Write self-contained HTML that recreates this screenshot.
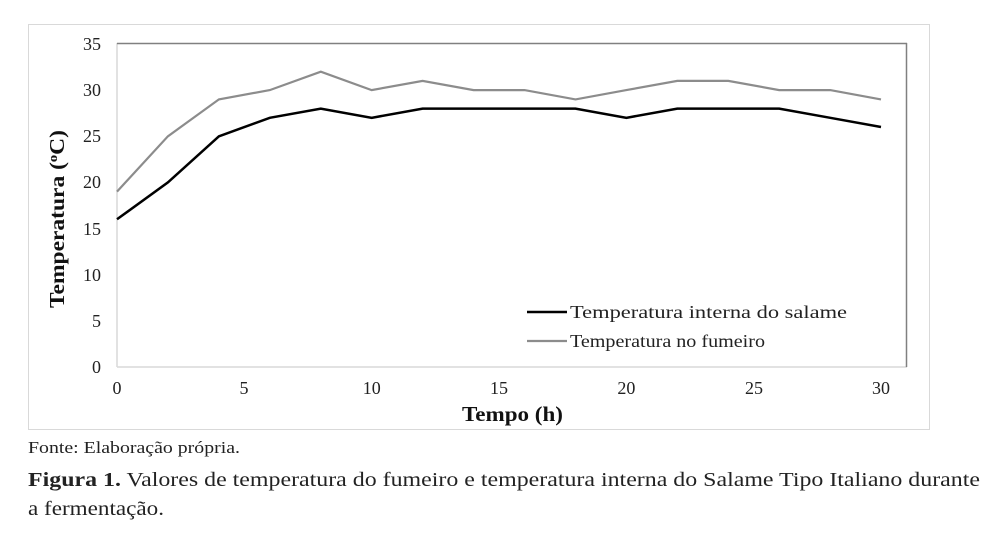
<!DOCTYPE html>
<html><head><meta charset="utf-8"><style>
body{margin:0;background:#fff;}
svg{display:block;font-family:"Liberation Serif",serif;}
</style></head><body>
<svg width="1004" height="534" viewBox="0 0 1004 534">
<rect x="28.5" y="24.5" width="901" height="405" fill="#fff" stroke="#d9d9d9" stroke-width="1"/>
<line x1="117" y1="367" x2="907" y2="367" stroke="#d9d9d9" stroke-width="1.5"/>
<line x1="117" y1="43" x2="117" y2="367" stroke="#d9d9d9" stroke-width="1.5"/>
<line x1="117" y1="43.5" x2="907" y2="43.5" stroke="#808080" stroke-width="1.5"/>
<line x1="906.5" y1="43" x2="906.5" y2="367" stroke="#808080" stroke-width="1.5"/>
<g font-size="18" fill="#222" text-anchor="end">
<text x="101" y="50">35</text><text x="101" y="96">30</text><text x="101" y="142">25</text>
<text x="101" y="188">20</text><text x="101" y="235">15</text><text x="101" y="281">10</text>
<text x="101" y="327">5</text><text x="101" y="373">0</text>
</g>
<g font-size="18" fill="#222" text-anchor="middle">
<text x="117" y="394">0</text><text x="244" y="394">5</text><text x="371.7" y="394">10</text>
<text x="499" y="394">15</text><text x="626.4" y="394">20</text><text x="754" y="394">25</text><text x="881" y="394">30</text>
</g>
<text x="462" y="421" font-size="21" font-weight="bold" fill="#111" textLength="101" lengthAdjust="spacingAndGlyphs">Tempo (h)</text>
<text transform="translate(64,308) rotate(-90)" font-size="21" font-weight="bold" fill="#111" textLength="178" lengthAdjust="spacingAndGlyphs">Temperatura (<tspan font-size="13" dy="-7">o</tspan><tspan dy="7">C)</tspan></text>
<polyline fill="none" stroke="#8c8c8c" stroke-width="2.2" points="117,191.6 167.9,136.3 218.9,99.4 269.8,90.1 320.8,71.7 371.7,90.1 422.6,80.9 473.6,90.1 524.5,90.1 575.5,99.4 626.4,90.1 677.3,80.9 728.3,80.9 779.2,90.1 830.2,90.1 881,99.4"/>
<polyline fill="none" stroke="#000" stroke-width="2.5" points="117,219.3 167.9,182.4 218.9,136.3 269.8,117.8 320.8,108.6 371.7,117.8 422.6,108.6 473.6,108.6 524.5,108.6 575.5,108.6 626.4,117.8 677.3,108.6 728.3,108.6 779.2,108.6 830.2,117.8 881,127"/>
<line x1="527" y1="312" x2="567" y2="312" stroke="#000" stroke-width="2.5"/>
<line x1="527" y1="341" x2="567" y2="341" stroke="#8c8c8c" stroke-width="2.2"/>
<text x="570" y="318" font-size="18" fill="#222" textLength="277" lengthAdjust="spacingAndGlyphs">Temperatura interna do salame</text>
<text x="570" y="347" font-size="18" fill="#222" textLength="195" lengthAdjust="spacingAndGlyphs">Temperatura no fumeiro</text>
<text x="28" y="453" font-size="17" fill="#222" textLength="212" lengthAdjust="spacingAndGlyphs">Fonte: Elaboração própria.</text>
<text x="28" y="486" font-size="20" fill="#222" textLength="952" lengthAdjust="spacingAndGlyphs"><tspan font-weight="bold">Figura 1.</tspan> Valores de temperatura do fumeiro e temperatura interna do Salame Tipo Italiano durante</text>
<text x="28" y="515" font-size="20" fill="#222" textLength="136" lengthAdjust="spacingAndGlyphs">a fermentação.</text>
</svg>
</body></html>
